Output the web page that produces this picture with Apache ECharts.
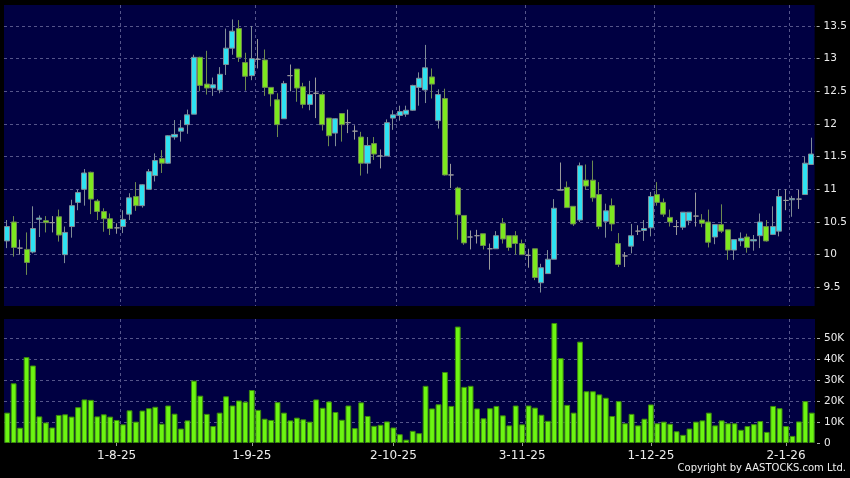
<!DOCTYPE html>
<html><head><meta charset="utf-8">
<script src="https://cdn.jsdelivr.net/npm/echarts@6/dist/echarts.min.js"></script>
<style>html,body{margin:0;padding:0;background:#000;} #c{width:850px;height:478px;}</style>
</head><body><div id="c"></div>
<script>
const dates = [
'2025-07-09','2025-07-10','2025-07-11','2025-07-14','2025-07-15','2025-07-16','2025-07-17','2025-07-18','2025-07-21','2025-07-22','2025-07-23','2025-07-24','2025-07-25','2025-07-28','2025-07-29','2025-07-30','2025-07-31',
'2025-08-01','2025-08-04','2025-08-05','2025-08-06','2025-08-07','2025-08-08','2025-08-11','2025-08-12','2025-08-13','2025-08-14','2025-08-15','2025-08-18','2025-08-19','2025-08-20','2025-08-21','2025-08-22','2025-08-25','2025-08-26','2025-08-27','2025-08-28','2025-08-29',
'2025-09-01','2025-09-02','2025-09-03','2025-09-04','2025-09-05','2025-09-08','2025-09-09','2025-09-10','2025-09-11','2025-09-12','2025-09-15','2025-09-16','2025-09-17','2025-09-18','2025-09-19','2025-09-22','2025-09-23','2025-09-24','2025-09-25','2025-09-26','2025-09-29','2025-09-30',
'2025-10-02','2025-10-03','2025-10-06','2025-10-08','2025-10-09','2025-10-10','2025-10-13','2025-10-14','2025-10-15','2025-10-16','2025-10-17','2025-10-20','2025-10-21','2025-10-22','2025-10-23','2025-10-24','2025-10-27','2025-10-28','2025-10-30','2025-10-31',
'2025-11-03','2025-11-04','2025-11-05','2025-11-06','2025-11-07','2025-11-10','2025-11-11','2025-11-12','2025-11-13','2025-11-14','2025-11-17','2025-11-18','2025-11-19','2025-11-20','2025-11-21','2025-11-24','2025-11-25','2025-11-26','2025-11-27','2025-11-28',
'2025-12-01','2025-12-02','2025-12-03','2025-12-04','2025-12-05','2025-12-08','2025-12-09','2025-12-10','2025-12-11','2025-12-12','2025-12-15','2025-12-16','2025-12-17','2025-12-18','2025-12-19','2025-12-22','2025-12-23','2025-12-24','2025-12-29','2025-12-30','2025-12-31',
'2026-01-02','2026-01-05','2026-01-06','2026-01-07','2026-01-08'];

const openP = [10.21,10.5,10.1,10.08,10.04,10.54,10.52,10.49,10.58,10.0,
10.43,10.8,11.0,11.26,10.82,10.66,10.55,10.41,10.43,10.62,
10.89,10.75,11.0,11.21,11.47,11.4,11.8,11.89,11.99,12.15,
13.02,12.61,12.55,12.52,12.91,13.16,13.46,12.94,12.74,12.99,
12.98,12.56,12.37,12.08,12.74,12.84,12.57,12.3,12.47,12.45,
12.09,11.86,12.16,12.02,11.89,11.8,11.4,11.7,11.51,11.51,
12.09,12.13,12.15,12.21,12.56,12.52,12.72,12.05,12.39,11.22,
11.02,10.6,10.27,10.29,10.32,10.09,10.09,10.48,10.29,10.29,
10.17,9.99,10.09,9.57,9.71,9.93,10.99,11.03,10.74,10.53,
11.14,11.14,10.92,10.51,10.75,10.17,9.98,10.13,10.36,10.37,
10.41,10.92,10.8,10.57,10.43,10.42,10.52,10.59,10.53,10.5,
10.27,10.46,10.38,10.07,10.21,10.27,10.21,10.29,10.43,10.31,
10.36,10.83,10.84,10.85,10.92,11.38];
const closeP = [10.43,10.11,10.1,9.88,10.4,10.56,10.49,10.49,10.3,10.34,
10.75,10.95,11.25,10.85,10.66,10.55,10.4,10.41,10.54,10.87,
10.75,11.07,11.27,11.44,11.4,11.82,11.84,11.94,12.14,13.02,
12.59,12.55,12.6,12.76,13.16,13.42,13.02,12.73,13.0,12.99,
12.56,12.46,11.99,12.62,12.74,12.55,12.3,12.45,12.47,11.99,
11.82,12.08,11.99,12.02,11.89,11.4,11.67,11.54,11.51,12.02,
12.14,12.19,12.21,12.59,12.7,12.86,12.61,12.45,11.22,11.22,
10.61,10.18,10.27,10.29,10.14,10.09,10.29,10.24,10.11,10.17,
10.0,9.99,9.65,9.8,9.93,10.71,10.99,10.72,10.47,11.36,
11.05,10.87,10.43,10.67,10.47,9.85,9.98,10.29,10.36,10.4,
10.89,10.8,10.62,10.5,10.43,10.65,10.65,10.59,10.48,10.19,
10.46,10.36,10.07,10.23,10.25,10.11,10.23,10.5,10.21,10.43,
10.89,10.83,10.86,10.85,11.4,11.54];
const lowP = [10.1,9.97,10.0,9.69,10.02,10.27,10.34,10.34,10.2,9.87,
10.26,10.68,10.75,10.62,10.53,10.35,10.3,10.32,10.33,10.53,
10.67,10.72,10.99,11.12,11.25,11.39,11.76,11.73,11.85,12.15,
12.5,12.45,12.43,12.47,12.75,13.06,12.95,12.51,12.67,12.85,
12.43,12.27,11.8,12.08,12.5,12.34,12.24,12.21,12.09,11.9,
11.66,11.66,11.73,11.86,11.76,11.21,11.24,11.45,11.32,11.51,
11.91,12.05,12.11,12.2,12.28,12.32,12.39,11.93,11.21,11.02,
10.23,10.15,10.08,10.17,10.08,9.77,10.09,10.17,10.06,10.0,
10.0,9.8,9.61,9.42,9.71,9.93,10.99,10.72,10.44,10.5,
10.99,10.81,10.39,10.26,10.36,9.81,9.81,10.02,10.3,10.21,
10.28,10.75,10.58,10.43,10.3,10.38,10.45,10.43,10.42,10.11,
10.16,10.33,9.92,9.92,10.13,10.03,10.06,10.1,10.2,10.3,
10.28,10.68,10.58,10.7,10.92,11.38];
const highP = [10.53,10.59,10.23,10.34,10.74,10.6,10.59,10.59,10.69,10.43,
10.84,10.99,11.31,11.27,10.85,10.71,10.63,10.48,10.68,10.94,
11.11,11.08,11.31,11.55,11.6,11.83,12.06,12.06,12.22,13.06,
13.03,13.12,12.71,12.87,13.46,13.6,13.59,13.09,13.5,13.3,
13.14,12.56,12.47,12.66,12.91,12.84,12.63,12.66,12.71,12.48,
12.09,12.09,12.16,12.22,11.98,11.88,11.8,11.8,11.61,12.07,
12.21,12.28,12.28,12.6,12.79,13.21,12.85,12.53,12.54,11.39,
11.04,10.6,10.37,10.38,10.32,10.17,10.36,10.56,10.29,10.36,
10.23,10.09,10.09,9.86,10.07,10.85,11.41,11.12,10.74,11.41,
11.38,11.44,11.11,10.78,10.86,10.33,10.04,10.47,10.45,10.53,
10.96,11.11,10.86,10.69,10.53,10.65,10.65,10.95,10.62,10.69,
10.46,10.77,10.38,10.23,10.34,10.32,10.3,10.63,10.53,10.74,
11.0,11.0,10.9,10.99,11.5,11.79];
const volume = [14500,28500,7300,41000,37000,12700,9800,7400,13400,13700,
12600,17100,20800,20600,12700,13700,12600,11000,8900,15600,
10200,15500,16600,17300,9200,17900,14000,6900,10800,29800,
22600,13900,8100,14500,22300,17900,20300,19700,25300,15800,
11600,11000,19500,14500,10800,12100,11300,10200,20800,16800,
19800,14800,11100,17900,7100,19400,12900,8200,8700,10300,
7400,4200,1600,5800,4700,27300,16500,18500,33900,17700,
55600,26800,27300,16500,11800,16600,17700,13200,8400,17900,
8900,17900,16900,13500,10600,57300,40500,18200,14500,48400,
24700,24700,23200,21600,12900,20000,9400,13900,8400,11600,
18400,9400,10200,9200,5600,3900,6900,10200,10800,14500,
8400,10800,9400,9400,6300,8100,9000,10500,5300,17700,
16600,8100,3400,10300,20000,14500];

const tickDates = ['2025-08-01','2025-09-01','2025-10-02','2025-11-03','2025-12-01','2026-01-02'];
const tickLabels = ['1-8-25','1-9-25','2-10-25','3-11-25','1-12-25','2-1-26'];
const priceTicks = [9.5,10,10.5,11,11.5,12,12.5,13,13.5];
const volumeTicks = [0,10000,20000,30000,40000,50000];

const tickIdx = tickDates.map(d => dates.indexOf(d));
const labelOf = {};
tickIdx.forEach((k, j) => { labelOf[k] = tickLabels[j]; });
const candles = dates.map((d, i) => [openP[i], closeP[i], lowP[i], highP[i]]);

const gridC = '#55558a';
const splitX = {
  show: true,
  interval: (idx) => tickIdx.indexOf(idx - 1) >= 0,
  lineStyle: { color: [gridC, gridC, gridC, gridC, gridC, gridC, 'transparent'], type: [3, 3], width: 1 }
};
const labelFont = { fontFamily: 'DejaVu Sans', color: '#ececec' };

const chart = echarts.init(document.getElementById('c'), null, { renderer: 'canvas' });
chart.setOption({
  animation: false,
  backgroundColor: '#000',
  grid: [
    { left: 4, right: 35, top: 5, height: 301, show: true, backgroundColor: '#000042', borderWidth: 0 },
    { left: 4, right: 35, top: 319, height: 124, show: true, backgroundColor: '#000042', borderWidth: 0 }
  ],
  xAxis: [
    { type: 'category', gridIndex: 0, data: dates, boundaryGap: true,
      axisLine: { show: false }, axisTick: { show: false }, axisLabel: { show: false },
      splitLine: splitX },
    { type: 'category', gridIndex: 1, data: dates, boundaryGap: true, offset: 3,
      axisLine: { show: false },
      axisTick: { show: true, alignWithLabel: true, length: 3, interval: (idx) => labelOf[idx] !== undefined, lineStyle: { color: '#999' } },
      axisLabel: Object.assign({ fontSize: 12, margin: 4, interval: (idx) => labelOf[idx] !== undefined,
        formatter: (v, idx) => labelOf[idx] || '' }, labelFont),
      splitLine: splitX }
  ],
  yAxis: [
    { type: 'value', gridIndex: 0, position: 'right', min: 9.214, max: 13.821, offset: 2,
      axisLine: { show: false },
      axisTick: { show: true, length: 3, customValues: priceTicks, lineStyle: { color: '#aaa' } },
      axisLabel: Object.assign({ fontSize: 10.5, margin: 7, customValues: priceTicks }, labelFont),
      splitLine: { show: true, lineStyle: { color: gridC, type: [3, 3], width: 1 } } },
    { type: 'value', gridIndex: 1, position: 'right', min: 0, max: 59200, offset: 2,
      axisLine: { show: false },
      axisTick: { show: true, length: 3, customValues: volumeTicks, lineStyle: { color: '#aaa' } },
      axisLabel: Object.assign({ fontSize: 10.5, margin: 7, customValues: volumeTicks,
        formatter: v => v === 0 ? '0' : (v / 1000) + 'K' }, labelFont),
      splitLine: { show: true, lineStyle: { color: ['transparent', gridC, gridC, gridC, gridC, gridC], type: [3, 3], width: 1 } } }
  ],
  series: [
    { type: 'candlestick', xAxisIndex: 0, yAxisIndex: 0, data: candles, barWidth: '86%',
      itemStyle: { color: '#2ee2f2', color0: '#7de81f', borderColor: '#7f8c96', borderColor0: '#6e8a50',
        borderColorDoji: '#9a9a9a', borderWidth: 1 } },
    { type: 'bar', xAxisIndex: 1, yAxisIndex: 1, data: volume, barWidth: '90%',
      itemStyle: { color: '#6cf512', borderColor: '#3c8a0c', borderWidth: 1 } }
  ],
  graphic: [
    { type: 'text', right: 4, top: 463,
      style: { text: 'Copyright by AASTOCKS.com Ltd.', fill: '#f0f0f0', font: '10px "DejaVu Sans"' } }
  ]
});
</script>
</body></html>
